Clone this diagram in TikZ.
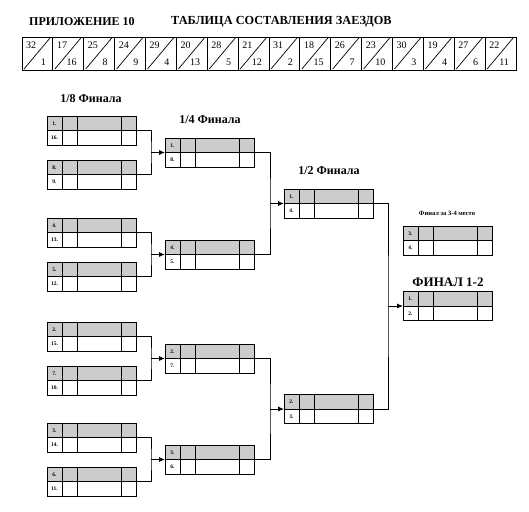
\documentclass[tikz,border=0pt]{standalone}
\usepackage{fontspec}
\setmainfont{Liberation Serif}
\usetikzlibrary{arrows.meta,calc}

\tikzset{
  heatbox/.style={draw, line width=0.9pt, anchor=north west, minimum width=89pt,
    minimum height=29pt, inner sep=0pt, outer sep=0pt,
    path picture={\fill[gray!40] (path picture bounding box.north west)
      rectangle (path picture bounding box.east);}},
  seed/.style={font=\bfseries\fontsize{5.5}{5.5}\selectfont, inner sep=0pt},
  stage/.style={font=\bfseries\fontsize{12}{12}\selectfont, inner sep=0pt},
  pairno/.style={font=\fontsize{10}{10}\selectfont, inner sep=0pt},
  link/.style={line width=0.9pt},
  pass/.style={link, -{Latex[length=6pt,width=5pt]}}
}

% name, x, y, upper seed, lower seed
\newcommand{\heatbox}[5]{%
  \node[heatbox] (#1) at (#2,#3) {};
  \draw[line width=0.9pt] (#1.west) -- (#1.east)
    ($(#1.north west)+(15,0)$) -- ($(#1.south west)+(15,0)$)
    ($(#1.north west)+(30,0)$) -- ($(#1.south west)+(30,0)$)
    ($(#1.north west)+(74,0)$) -- ($(#1.south west)+(74,0)$);
  \node[seed] (#1u) at ($(#1.north west)+(7.5,7.25)$) {#4};
  \node[seed] (#1l) at ($(#1.south west)+(7.5,-7.25)$) {#5};
}

\begin{document}
\begin{tikzpicture}[x=1pt,y=-1pt]
  \useasboundingbox (0,0) rectangle (529,511);

  % heading
  \node[stage, anchor=west] (app) at (29,22) {ПРИЛОЖЕНИЕ 10};
  \node[stage, anchor=west, font=\bfseries\fontsize{12.3}{12.3}\selectfont] (title) at (171,22) {ТАБЛИЦА СОСТАВЛЕНИЯ ЗАЕЗДОВ};

  % pairs strip
  \draw[line width=0.9pt] (22,37) rectangle (516,70);
  \foreach \t/\b [count=\i from 0] in {32/1,17/16,25/8,24/9,29/4,20/13,28/5,21/12,
      31/2,18/15,26/7,23/10,30/3,19/4,27/6,22/11}{
    \pgfmathsetmacro{\xx}{22+\i*30.875}
    \draw[line width=0.9pt] (\xx,37) -- (\xx,70);
    \draw[line width=0.7pt] (\xx+2,69) -- (\xx+28,38);
    \node[pairno, anchor=west] (p\i t) at (\xx+4,45.5) {\t};
    \node[pairno, anchor=east] (p\i b) at (\xx+24,62.5) {\b};
  }

  % stage titles
  \node[stage] (r16) at (91,99) {1/8 Финала};
  \node[stage] (r8) at (210,120) {1/4 Финала};
  \node[stage] (r4) at (329,171) {1/2 Финала};
  \node[font=\bfseries\fontsize{6.5}{6.5}\selectfont, inner sep=0pt] (r3rd) at (447,213) {Финал за 3-4 место};
  \node[stage, font=\bfseries\fontsize{13}{13}\selectfont] (rfin) at (448,282) {ФИНАЛ 1-2};

  % 1/8
  \heatbox{e1}{47}{116}{1.}{16.}
  \heatbox{e2}{47}{160}{8.}{9.}
  \heatbox{e3}{47}{218}{4.}{13.}
  \heatbox{e4}{47}{262}{5.}{12.}
  \heatbox{e5}{47}{322}{2.}{15.}
  \heatbox{e6}{47}{366}{7.}{10.}
  \heatbox{e7}{47}{423}{3.}{14.}
  \heatbox{e8}{47}{467}{6.}{11.}
  % 1/4
  \heatbox{q1}{165}{138}{1.}{8.}
  \heatbox{q2}{165}{240}{4.}{5.}
  \heatbox{q3}{165}{344}{2.}{7.}
  \heatbox{q4}{165}{445}{3.}{6.}
  % 1/2
  \heatbox{s1}{284}{189}{1.}{4.}
  \heatbox{s2}{284}{394.5}{2.}{3.}
  % finals
  \heatbox{f34}{403}{226}{3.}{4.}
  \heatbox{f12}{403}{291.5}{1.}{2.}

  % connectors
  \coordinate (j1) at (151,152.5);
  \coordinate (j2) at (151,254.5);
  \coordinate (j3) at (151,358.5);
  \coordinate (j4) at (151,459.5);
  \coordinate (k1) at (270,203.5);
  \coordinate (k2) at (270,409);
  \coordinate (m1) at (388,306);
  \draw[link] (e1.east) -| (j1) |- (e2.east);
  \draw[link] (e3.east) -| (j2) |- (e4.east);
  \draw[link] (e5.east) -| (j3) |- (e6.east);
  \draw[link] (e7.east) -| (j4) |- (e8.east);
  \draw[link] (q1.east) -| (k1) |- (q2.east);
  \draw[link] (q3.east) -| (k2) |- (q4.east);
  \draw[link] (s1.east) -| (m1) |- (s2.east);
  \draw[pass] (j1) -- (q1.west);
  \draw[pass] (j2) -- (q2.west);
  \draw[pass] (j3) -- (q3.west);
  \draw[pass] (j4) -- (q4.west);
  \draw[pass] (k1) -- (s1.west);
  \draw[pass] (k2) -- (s2.west);
  \draw[pass] (m1) -- (f12.west);
\end{tikzpicture}
\end{document}
